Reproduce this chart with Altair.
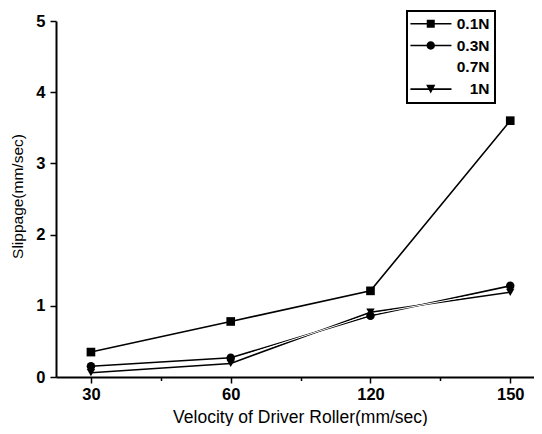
import altair as alt
import pandas as pd

x_labels = ["30", "60", "120", "150"]
series_names = ["0.1N", "0.3N", "0.7N", "1N"]
s_01 = [0.35, 0.78, 1.21, 3.60]
s_03 = [0.15, 0.27, 0.86, 1.28]
s_07 = [0.11, 0.24, 0.88, 1.24]
s_1 = [0.06, 0.19, 0.91, 1.19]

rows = []
for name, vals in zip(series_names, [s_01, s_03, s_07, s_1]):
    for i, v in enumerate(vals):
        rows.append({"series": name, "idx": i, "vel": x_labels[i], "slip": v})
df = pd.DataFrame(rows)

FONT = "Liberation Sans"
label_js = "[" + ",".join("'" + l + "'" for l in x_labels) + "]"
x_label_expr = "datum.value % 1 === 0 ? " + label_js + "[datum.value] : ''"

x_enc = alt.X(
    "idx:Q",
    scale=alt.Scale(domain=[-0.25, 3.17], nice=False, zero=False),
    axis=alt.Axis(
        title="Velocity of Driver Roller(mm/sec)",
        values=[0, 0.5, 1, 1.5, 2, 2.5, 3],
        labelExpr=x_label_expr,
        tickSize={"condition": {"test": "datum.value % 1 === 0", "value": 6}, "value": 3.5},
        labelPadding=3,
        labelFontSize=16.5,
        labelFontWeight="bold",
        titleFontSize=17.5,
        titleFontWeight="normal",
        titleX=244,
        titleY=45,
        titleBaseline="alphabetic",
    ),
)
y_enc = alt.Y(
    "slip:Q",
    scale=alt.Scale(domain=[0, 5], nice=False),
    axis=alt.Axis(
        title="Slippage(mm/sec)",
        values=[0, 0.5, 1, 1.5, 2, 2.5, 3, 3.5, 4, 4.5, 5],
        labelExpr="datum.value % 1 === 0 ? '' + datum.value : ''",
        tickSize={"condition": {"test": "datum.value % 1 === 0", "value": 6}, "value": 3.5},
        labelPadding=5,
        labelFontSize=16.5,
        labelFontWeight="bold",
        titleFontSize=15.5,
        titleFontWeight="normal",
        titleX=-34,
        titleY=175,
        titleBaseline="alphabetic",
    ),
)

visible = df[df["series"] != "0.7N"]
hidden = df[df["series"] == "0.7N"]

lines = alt.Chart(visible).mark_line(color="black", strokeWidth=1.6).encode(
    x=x_enc, y=y_enc, detail="series:N"
)
white_line = alt.Chart(hidden).mark_line(color="white", strokeWidth=1).encode(
    x="idx:Q", y="slip:Q"
)
points = alt.Chart(visible).mark_point(filled=True, color="black", opacity=1).encode(
    x="idx:Q",
    y="slip:Q",
    shape=alt.Shape(
        "series:N",
        scale=alt.Scale(domain=["0.1N", "0.3N", "1N"], range=["square", "circle", "triangle-down"]),
        legend=None,
    ),
    size=alt.Size(
        "series:N",
        scale=alt.Scale(domain=["0.1N", "0.3N", "1N"], range=[75, 70, 80]),
        legend=None,
    ),
)

# legend glyphs: a thin filled bar (the line) plus the marker, unit = 4 px
c = 2.75
x0, x1 = -2.33, 7.93
bar = "M{:.2f},-0.2L{:.2f},-0.2L{:.2f},0.2L{:.2f},0.2Z".format(x0, x1, x1, x0)
legend_paths = [
    bar + "M{:.2f},-1L{:.2f},-1L{:.2f},1L{:.2f},1Z".format(c - 1, c + 1, c + 1, c - 1),
    bar + "M{:.2f},0A1.05,1.05 0 1,1 {:.2f},0A1.05,1.05 0 1,1 {:.2f},0Z".format(c - 1.05, c + 1.05, c - 1.05),
    "M0,0L0,0",
    bar + "M{:.2f},-1.1L{:.2f},-1.1L{:.2f},1.1Z".format(c - 1.15, c + 1.15, c),
]

legend_layer = alt.Chart(df).transform_filter("false").mark_point(
    filled=True, color="black", opacity=1
).encode(
    x="idx:Q",
    y="slip:Q",
    shape=alt.Shape(
        "series:N",
        scale=alt.Scale(domain=series_names, range=legend_paths),
        legend=alt.Legend(
            title=None,
            orient="none",
            legendX=351,
            legendY=-10,
            padding=5,
            strokeColor="black",
            fillColor="white",
            symbolSize=64,
            symbolFillColor="black",
            symbolOpacity=1,
            labelAlign="right",
            labelOffset=62,
            labelFont=FONT,
            labelFontSize=15.5,
            labelFontWeight="bold",
            labelColor="black",
            rowPadding=4.8,
        ),
    ),
)

chart = (
    alt.layer(lines, white_line, points, legend_layer)
    .resolve_scale(shape="independent", size="independent")
    .properties(
        width=478,
        height=356,
        autosize=alt.AutoSizeParams(type="none"),
        padding={"left": 48, "top": 13, "right": 0, "bottom": 49},
        background="white",
    )
    .configure_view(stroke=None)
    .configure_legend(strokeWidth=2)
    .configure_axis(
        grid=False,
        domainColor="black",
        domainWidth=2,
        tickColor="black",
        tickWidth=1.5,
        labelColor="black",
        titleColor="black",
        labelFont=FONT,
        titleFont=FONT,
    )
)

chart.save("out.html", embed_options={"renderer": "svg", "actions": False})
